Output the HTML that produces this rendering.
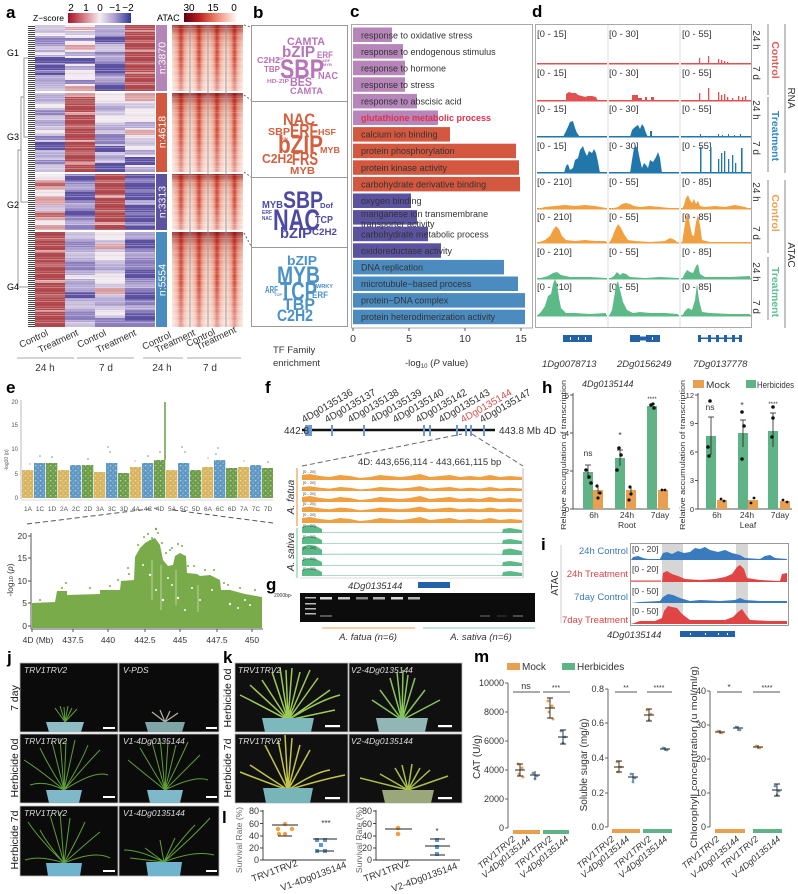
<!DOCTYPE html>
<html><head><meta charset="utf-8">
<style>
html,body{margin:0;padding:0;background:#fff}
svg{display:block}
text{font-family:"Liberation Sans",Arial,sans-serif}
</style></head><body>
<svg width="798" height="894" viewBox="0 0 798 894" xmlns="http://www.w3.org/2000/svg" font-family="Liberation Sans, Arial, sans-serif">
<defs>
<linearGradient id="zs" x1="0" x2="1"><stop offset="0" stop-color="#a8102a"/><stop offset=".25" stop-color="#d67a80"/><stop offset=".5" stop-color="#f4eef2"/><stop offset=".75" stop-color="#a89ad0"/><stop offset="1" stop-color="#2c3a96"/></linearGradient>
<linearGradient id="ac" x1="0" x2="1"><stop offset="0" stop-color="#5c0010"/><stop offset=".3" stop-color="#c0201e"/><stop offset=".65" stop-color="#f08f78"/><stop offset="1" stop-color="#fff5f0"/></linearGradient>
<linearGradient id="ah" x1="0" x2="1"><stop offset="0" stop-color="#f8dcd2"/><stop offset=".3" stop-color="#f0a892"/><stop offset=".5" stop-color="#cc3a2c"/><stop offset=".7" stop-color="#f0a892"/><stop offset="1" stop-color="#f8dcd2"/></linearGradient>
<linearGradient id="av" x1="0" x2="0" y1="0" y2="1"><stop offset="0" stop-color="#7a0008" stop-opacity=".65"/><stop offset=".15" stop-color="#b02418" stop-opacity=".25"/><stop offset=".5" stop-color="#fff" stop-opacity=".05"/><stop offset="1" stop-color="#fff" stop-opacity=".5"/></linearGradient>
<pattern id="hs" width="120" height="7" patternUnits="userSpaceOnUse"><rect y="0" width="120" height="1" fill="#fff" opacity=".3"/><rect y="3" width="120" height=".8" fill="#000" opacity=".06"/><rect y="5" width="120" height=".7" fill="#fff" opacity=".2"/></pattern>
<pattern id="dd" width="10" height="2" patternUnits="userSpaceOnUse"><rect width="10" height="1" fill="#222"/></pattern>
<pattern id="spk" width="5" height="5" patternUnits="userSpaceOnUse"><rect x="0" y="0" width="1.3" height="1.3" fill="#fff" opacity=".55"/><rect x="2.5" y="2.5" width="1.2" height="1.2" fill="#fff" opacity=".45"/><rect x="3.5" y="0.5" width=".8" height=".8" fill="#fff" opacity=".3"/></pattern>
</defs>

<!-- ================= PANEL A ================= -->
<text x="6" y="18" font-size="17" font-weight="bold">a</text>
<text x="33" y="21" font-size="8.5">Z−score</text>
<rect x="68" y="13" width="63" height="10" fill="url(#zs)"/>
<g font-size="10" text-anchor="middle"><text x="71" y="11">2</text><text x="86" y="11">1</text><text x="100" y="11">0</text><text x="115" y="11">−1</text><text x="128" y="11">−2</text></g>
<text x="157" y="21" font-size="9">ATAC</text>
<rect x="184" y="13" width="52" height="9" fill="url(#ac)"/>
<g font-size="10" text-anchor="middle"><text x="189" y="11">30</text><text x="213" y="11">15</text><text x="234" y="11">0</text></g>

<rect x="28" y="25" width="7" height="302" fill="url(#dd)" opacity=".85"/>
<g stroke="#999" stroke-width="1" fill="none">
<path d="M28,58 H24 V137 H28"/><path d="M24,97 H21 V202 H28"/><path d="M21,150 H18 V287 H28"/>
</g>
<g font-size="9"><text x="7" y="56">G1</text><text x="7" y="140">G3</text><text x="7" y="208">G2</text><text x="7" y="290">G4</text></g>

<g>
<rect x="35" y="25" width="30" height="66" fill="#b3a7d3"/>
<rect x="35" y="25" width="30" height="8" fill="#cfc4e0"/><rect x="35" y="33" width="30" height="3" fill="#f2e9ef"/><rect x="35" y="38" width="30" height="6" fill="#8f81c0"/><rect x="35" y="46" width="30" height="4" fill="#cfc4e0"/><rect x="35" y="52" width="30" height="3" fill="#f2e9ef"/><rect x="35" y="57" width="30" height="18" fill="#5e52a3"/><rect x="35" y="63" width="30" height="2" fill="#8f81c0"/><rect x="35" y="70" width="30" height="3" fill="#8f81c0"/><rect x="35" y="86" width="30" height="5" fill="#cfc4e0"/>
<rect x="65" y="25" width="30" height="66" fill="#f2e9ef"/>
<rect x="65" y="27" width="30" height="3" fill="#dda0a3"/><rect x="65" y="31" width="30" height="4" fill="#cfc4e0"/><rect x="65" y="38" width="30" height="3" fill="#8f81c0"/><rect x="65" y="45" width="30" height="5" fill="#dda0a3"/><rect x="65" y="52" width="30" height="4" fill="#b3a7d3"/><rect x="65" y="58" width="30" height="6" fill="#5e52a3"/><rect x="65" y="66" width="30" height="4" fill="#b3a7d3"/><rect x="65" y="80" width="30" height="4" fill="#8f81c0"/><rect x="65" y="86" width="30" height="5" fill="#dda0a3"/>
<rect x="95" y="25" width="30" height="66" fill="#8f81c0"/>
<rect x="95" y="25" width="30" height="10" fill="#b3a7d3"/><rect x="95" y="37" width="30" height="5" fill="#5e52a3"/><rect x="95" y="44" width="30" height="8" fill="#cfc4e0"/><rect x="95" y="55" width="30" height="6" fill="#b3a7d3"/><rect x="95" y="63" width="30" height="10" fill="#5e52a3"/><rect x="95" y="76" width="30" height="6" fill="#b3a7d3"/><rect x="95" y="84" width="30" height="7" fill="#5e52a3"/>
<rect x="125" y="25" width="30" height="66" fill="#b24a4f"/>
<rect x="125" y="30" width="30" height="2" fill="#dda0a3"/><rect x="125" y="40" width="30" height="3" fill="#c0656a"/><rect x="125" y="50" width="30" height="2" fill="#dda0a3"/><rect x="125" y="62" width="30" height="3" fill="#c0656a"/><rect x="125" y="72" width="30" height="2" fill="#dda0a3"/><rect x="125" y="82" width="30" height="3" fill="#c0656a"/>
</g>
<g>
<rect x="35" y="93" width="30" height="79" fill="#cfc4e0"/>
<rect x="35" y="95" width="30" height="6" fill="#b3a7d3"/><rect x="35" y="104" width="30" height="4" fill="#f2e9ef"/><rect x="35" y="110" width="30" height="5" fill="#8f81c0"/><rect x="35" y="120" width="30" height="6" fill="#b3a7d3"/><rect x="35" y="130" width="30" height="3" fill="#f2e9ef"/><rect x="35" y="136" width="30" height="4" fill="#8f81c0"/><rect x="35" y="142" width="30" height="8" fill="#5e52a3"/><rect x="35" y="152" width="30" height="5" fill="#b3a7d3"/><rect x="35" y="160" width="30" height="4" fill="#8f81c0"/>
<rect x="65" y="93" width="30" height="79" fill="#b24a4f"/>
<rect x="65" y="93" width="30" height="4" fill="#dda0a3"/><rect x="65" y="100" width="30" height="3" fill="#c0656a"/><rect x="65" y="112" width="30" height="3" fill="#dda0a3"/><rect x="65" y="125" width="30" height="4" fill="#c0656a"/><rect x="65" y="140" width="30" height="2" fill="#dda0a3"/><rect x="65" y="150" width="30" height="4" fill="#c0656a"/><rect x="65" y="162" width="30" height="3" fill="#dda0a3"/>
<rect x="95" y="93" width="30" height="79" fill="#cfc4e0"/>
<rect x="95" y="93" width="30" height="10" fill="#f2e9ef"/><rect x="95" y="105" width="30" height="6" fill="#b3a7d3"/><rect x="95" y="115" width="30" height="8" fill="#f2e9ef"/><rect x="95" y="125" width="30" height="5" fill="#b3a7d3"/><rect x="95" y="134" width="30" height="10" fill="#8f81c0"/><rect x="95" y="146" width="30" height="6" fill="#5e52a3"/><rect x="95" y="155" width="30" height="5" fill="#b3a7d3"/><rect x="95" y="163" width="30" height="9" fill="#5e52a3"/>
<rect x="125" y="93" width="30" height="79" fill="#f2e9ef"/>
<rect x="125" y="93" width="30" height="8" fill="#dda0a3"/><rect x="125" y="103" width="30" height="5" fill="#cfc4e0"/><rect x="125" y="122" width="30" height="6" fill="#b3a7d3"/><rect x="125" y="130" width="30" height="5" fill="#dda0a3"/><rect x="125" y="138" width="30" height="8" fill="#cfc4e0"/><rect x="125" y="150" width="30" height="5" fill="#b3a7d3"/><rect x="125" y="157" width="30" height="8" fill="#5e52a3"/><rect x="125" y="167" width="30" height="5" fill="#b3a7d3"/>
</g>
<g>
<rect x="35" y="174" width="30" height="56" fill="#dda0a3"/>
<rect x="35" y="174" width="30" height="6" fill="#f2e9ef"/><rect x="35" y="182" width="30" height="4" fill="#c0656a"/><rect x="35" y="190" width="30" height="6" fill="#f2e9ef"/><rect x="35" y="205" width="30" height="6" fill="#cfc4e0"/><rect x="35" y="213" width="30" height="4" fill="#c0656a"/><rect x="35" y="220" width="30" height="5" fill="#f2e9ef"/>
<rect x="65" y="174" width="30" height="56" fill="#8f81c0"/>
<rect x="65" y="176" width="30" height="5" fill="#5e52a3"/><rect x="65" y="184" width="30" height="5" fill="#b3a7d3"/><rect x="65" y="192" width="30" height="8" fill="#5e52a3"/><rect x="65" y="203" width="30" height="5" fill="#b3a7d3"/><rect x="65" y="210" width="30" height="6" fill="#5e52a3"/><rect x="65" y="220" width="30" height="5" fill="#b3a7d3"/>
<rect x="95" y="174" width="30" height="56" fill="#b24a4f"/>
<rect x="95" y="180" width="30" height="3" fill="#c0656a"/><rect x="95" y="195" width="30" height="3" fill="#dda0a3"/><rect x="95" y="210" width="30" height="3" fill="#c0656a"/><rect x="95" y="222" width="30" height="3" fill="#dda0a3"/>
<rect x="125" y="174" width="30" height="56" fill="#5e52a3"/>
<rect x="125" y="178" width="30" height="4" fill="#8f81c0"/><rect x="125" y="190" width="30" height="3" fill="#8f81c0"/><rect x="125" y="200" width="30" height="5" fill="#b3a7d3"/><rect x="125" y="212" width="30" height="3" fill="#8f81c0"/><rect x="125" y="222" width="30" height="4" fill="#8f81c0"/>
</g>
<g>
<rect x="35" y="232" width="30" height="95" fill="#b24a4f"/>
<rect x="35" y="238" width="30" height="3" fill="#c0656a"/><rect x="35" y="250" width="30" height="2" fill="#dda0a3"/><rect x="35" y="262" width="30" height="4" fill="#c0656a"/><rect x="35" y="280" width="30" height="3" fill="#dda0a3"/><rect x="35" y="295" width="30" height="3" fill="#c0656a"/><rect x="35" y="310" width="30" height="2" fill="#dda0a3"/>
<rect x="65" y="232" width="30" height="95" fill="#b3a7d3"/>
<rect x="65" y="232" width="30" height="6" fill="#cfc4e0"/><rect x="65" y="242" width="30" height="5" fill="#8f81c0"/><rect x="65" y="252" width="30" height="6" fill="#cfc4e0"/><rect x="65" y="262" width="30" height="8" fill="#8f81c0"/><rect x="65" y="275" width="30" height="4" fill="#f2e9ef"/><rect x="65" y="292" width="30" height="6" fill="#5e52a3"/><rect x="65" y="302" width="30" height="6" fill="#cfc4e0"/><rect x="65" y="312" width="30" height="8" fill="#8f81c0"/><rect x="65" y="322" width="30" height="5" fill="#cfc4e0"/>
<rect x="95" y="232" width="30" height="95" fill="#cfc4e0"/>
<rect x="95" y="232" width="30" height="8" fill="#f2e9ef"/><rect x="95" y="244" width="30" height="5" fill="#dda0a3"/><rect x="95" y="252" width="30" height="8" fill="#f2e9ef"/><rect x="95" y="264" width="30" height="6" fill="#b3a7d3"/><rect x="95" y="274" width="30" height="10" fill="#f2e9ef"/><rect x="95" y="288" width="30" height="6" fill="#dda0a3"/><rect x="95" y="298" width="30" height="8" fill="#b3a7d3"/><rect x="95" y="310" width="30" height="5" fill="#f2e9ef"/><rect x="95" y="318" width="30" height="9" fill="#8f81c0"/>
<rect x="125" y="232" width="30" height="95" fill="#8f81c0"/>
<rect x="125" y="232" width="30" height="6" fill="#b3a7d3"/><rect x="125" y="240" width="30" height="8" fill="#5e52a3"/><rect x="125" y="252" width="30" height="6" fill="#b3a7d3"/><rect x="125" y="270" width="30" height="8" fill="#5e52a3"/><rect x="125" y="282" width="30" height="6" fill="#b3a7d3"/><rect x="125" y="292" width="30" height="8" fill="#5e52a3"/><rect x="125" y="305" width="30" height="5" fill="#b3a7d3"/><rect x="125" y="313" width="30" height="8" fill="#5e52a3"/>
</g>
<rect x="35" y="25" width="120" height="302" fill="url(#hs)"/>
<g fill="#fff"><rect x="35" y="91" width="120" height="2"/><rect x="35" y="172" width="120" height="2"/><rect x="35" y="230" width="120" height="2"/></g>

<rect x="156" y="25" width="11" height="66" fill="#b486b8"/>
<rect x="156" y="93" width="11" height="79" fill="#d2583f"/>
<rect x="156" y="174" width="11" height="56" fill="#5b52a0"/>
<rect x="156" y="232" width="11" height="95" fill="#4b8cc0"/>
<g fill="#fff" font-size="10.5" text-anchor="middle">
<text transform="translate(165.5,58) rotate(-90)">n:3870</text>
<text transform="translate(165.5,132) rotate(-90)">n:4618</text>
<text transform="translate(165.5,202) rotate(-90)">n:3313</text>
<text transform="translate(165.5,280) rotate(-90)">n:5554</text>
</g>

<g>
<rect x="172" y="25" width="18" height="66" fill="url(#ah)"/><rect x="190" y="25" width="18" height="66" fill="url(#ah)"/><rect x="208" y="25" width="18" height="66" fill="url(#ah)"/><rect x="226" y="25" width="17" height="66" fill="url(#ah)"/>
<rect x="172" y="93" width="18" height="79" fill="url(#ah)"/><rect x="190" y="93" width="18" height="79" fill="url(#ah)"/><rect x="208" y="93" width="18" height="79" fill="url(#ah)"/><rect x="226" y="93" width="17" height="79" fill="url(#ah)"/>
<rect x="172" y="174" width="18" height="56" fill="url(#ah)"/><rect x="190" y="174" width="18" height="56" fill="url(#ah)"/><rect x="208" y="174" width="18" height="56" fill="url(#ah)"/><rect x="226" y="174" width="17" height="56" fill="url(#ah)"/>
<rect x="172" y="232" width="18" height="95" fill="url(#ah)"/><rect x="190" y="232" width="18" height="95" fill="url(#ah)"/><rect x="208" y="232" width="18" height="95" fill="url(#ah)"/><rect x="226" y="232" width="17" height="95" fill="url(#ah)"/>
<rect x="172" y="25" width="71" height="66" fill="url(#av)"/>
<rect x="172" y="93" width="71" height="79" fill="url(#av)"/>
<rect x="172" y="174" width="71" height="56" fill="url(#av)"/>
<rect x="172" y="232" width="71" height="95" fill="url(#av)"/>
<rect x="172" y="25" width="71" height="302" fill="url(#hs)" opacity=".6"/>
<g fill="#fff"><rect x="172" y="91" width="71" height="2"/><rect x="172" y="172" width="71" height="2"/><rect x="172" y="230" width="71" height="2"/></g>
<g stroke="#888" stroke-width=".8"><line x1="190" y1="25" x2="190" y2="327"/><line x1="208" y1="25" x2="208" y2="327"/><line x1="226" y1="25" x2="226" y2="327"/></g>
</g>

<g font-size="9.5" fill="#333">
<text transform="translate(21,348) rotate(-25)">Control</text>
<text transform="translate(40,353) rotate(-25)">Treatment</text>
<text transform="translate(79,348) rotate(-25)">Control</text>
<text transform="translate(98,353) rotate(-25)">Treatment</text>
<text transform="translate(144,350) rotate(-25)">Control</text>
<text transform="translate(157,353) rotate(-25)">Treatment</text>
<text transform="translate(188,347) rotate(-25)">Control</text>
<text transform="translate(198,350) rotate(-25)">Treatment</text>
</g>
<g stroke="#aaa" stroke-width="1"><line x1="17" y1="358" x2="74" y2="358"/><line x1="77" y1="358" x2="134" y2="358"/><line x1="143" y1="358" x2="183" y2="358"/><line x1="187" y1="358" x2="241" y2="358"/></g>
<g font-size="10" text-anchor="middle" fill="#333"><text x="45" y="371">24 h</text><text x="106" y="371">7 d</text><text x="162" y="371">24 h</text><text x="210" y="371">7 d</text></g>

<!-- ================= PANEL B ================= -->
<text x="253" y="18" font-size="17" font-weight="bold">b</text>
<g fill="none" stroke="#999" stroke-width="1">
<rect x="251.5" y="25.5" width="96" height="76"/><rect x="251.5" y="101.5" width="96" height="76"/><rect x="251.5" y="177.5" width="96" height="70"/><rect x="251.5" y="247.5" width="96" height="79"/>
</g>
<g stroke="#666" stroke-dasharray="2,2"><line x1="244" y1="25" x2="251" y2="27"/><line x1="244" y1="95" x2="251" y2="100"/><line x1="244" y1="172" x2="251" y2="177"/><line x1="244" y1="233" x2="251" y2="246"/></g>
<g font-weight="bold" fill="#b874b8">
<text x="287" y="45" font-size="11" textLength="38" lengthAdjust="spacingAndGlyphs">CAMTA</text>
<text x="282" y="57" font-size="16" textLength="33" lengthAdjust="spacingAndGlyphs">bZIP</text>
<text x="317" y="58" font-size="9" textLength="16" lengthAdjust="spacingAndGlyphs">ERF</text>
<text x="257" y="63" font-size="8" textLength="23" lengthAdjust="spacingAndGlyphs">C2H2</text>
<text x="280" y="78" font-size="27" textLength="44" lengthAdjust="spacingAndGlyphs">SBP</text>
<text x="264" y="72" font-size="8.5" textLength="16" lengthAdjust="spacingAndGlyphs">TBP</text>
<text x="318" y="79" font-size="10.5" textLength="20" lengthAdjust="spacingAndGlyphs">NAC</text>
<text x="267" y="83" font-size="5.5" textLength="22" lengthAdjust="spacingAndGlyphs">HD-ZIP</text>
<text x="290" y="86" font-size="12" textLength="22" lengthAdjust="spacingAndGlyphs">BES</text>
<text x="290" y="94" font-size="9" textLength="33" lengthAdjust="spacingAndGlyphs">CAMTA</text>
<text x="322" y="62" font-size="4">ARF</text><text x="323" y="66" font-size="4">MYB</text><text x="276" y="60" font-size="4">TCP</text>
</g>
<g font-weight="bold" fill="#d65f3f">
<text x="283" y="125" font-size="17" textLength="32" lengthAdjust="spacingAndGlyphs">NAC</text>
<text x="268" y="135" font-size="10" textLength="22" lengthAdjust="spacingAndGlyphs">SBP</text>
<text x="290" y="137" font-size="18" textLength="28" lengthAdjust="spacingAndGlyphs">ERF</text>
<text x="318" y="135" font-size="8.5" textLength="18" lengthAdjust="spacingAndGlyphs">HSF</text>
<text x="278" y="153" font-size="25" textLength="45" lengthAdjust="spacingAndGlyphs">bZIP</text>
<text x="320" y="153" font-size="8.5" textLength="20" lengthAdjust="spacingAndGlyphs">MYB</text>
<text x="262" y="163" font-size="12.5" textLength="31" lengthAdjust="spacingAndGlyphs">C2H2</text>
<text x="292" y="165" font-size="18" textLength="26" lengthAdjust="spacingAndGlyphs">FRS</text>
<text x="290" y="174" font-size="10" textLength="25" lengthAdjust="spacingAndGlyphs">MYB</text>
<text x="281" y="140" font-size="4">EIN</text>
</g>
<g font-weight="bold" fill="#4c4aa5">
<text x="283" y="208" font-size="24" textLength="40" lengthAdjust="spacingAndGlyphs">SBP</text>
<text x="262" y="208" font-size="10" textLength="21" lengthAdjust="spacingAndGlyphs">MYB</text>
<text x="320" y="208" font-size="7.5" textLength="13" lengthAdjust="spacingAndGlyphs">Dof</text>
<text x="262" y="214" font-size="5" textLength="10" lengthAdjust="spacingAndGlyphs">ERF</text>
<text x="262" y="220" font-size="5" textLength="10" lengthAdjust="spacingAndGlyphs">NAC</text>
<text x="273" y="230" font-size="30" textLength="47" lengthAdjust="spacingAndGlyphs">NAC</text>
<text x="315" y="223" font-size="10.5" textLength="18" lengthAdjust="spacingAndGlyphs">TCP</text>
<text x="280" y="238" font-size="15" textLength="32" lengthAdjust="spacingAndGlyphs">bZIP</text>
<text x="312" y="235" font-size="9" textLength="25" lengthAdjust="spacingAndGlyphs">C2H2</text>
</g>
<g font-weight="bold" fill="#4a92c8">
<text x="287" y="265" font-size="13" textLength="30" lengthAdjust="spacingAndGlyphs">bZIP</text>
<text x="277" y="283" font-size="24" textLength="43" lengthAdjust="spacingAndGlyphs">MYB</text>
<text x="265" y="293" font-size="10" textLength="13" lengthAdjust="spacingAndGlyphs">ARF</text>
<text x="280" y="300" font-size="26" textLength="37" lengthAdjust="spacingAndGlyphs">TCP</text>
<text x="316" y="288" font-size="5" textLength="17" lengthAdjust="spacingAndGlyphs">WRKY</text>
<text x="312" y="298" font-size="9" textLength="16" lengthAdjust="spacingAndGlyphs">ERF</text>
<text x="283" y="310" font-size="17" textLength="32" lengthAdjust="spacingAndGlyphs">TBP</text>
<text x="277" y="321" font-size="17" textLength="36" lengthAdjust="spacingAndGlyphs">C2H2</text>
<text x="274" y="296" font-size="4">TCP</text>
</g>
<g font-size="9.5" fill="#333"><text x="273" y="353">TF Family</text><text x="273" y="366">enrichment</text></g>

<!-- ================= PANEL C ================= -->
<text x="350" y="17" font-size="17" font-weight="bold">c</text>
<rect x="351.5" y="24.5" width="181" height="303.5" fill="none" stroke="#aaa"/>
<g>
<g fill="#b685ba">
<rect x="353" y="27.5" width="39" height="14.5"/><rect x="353" y="44.1" width="50" height="14.5"/><rect x="353" y="60.7" width="52" height="14.5"/><rect x="353" y="77.3" width="52" height="14.5"/><rect x="353" y="93.9" width="64" height="14.5"/><rect x="353" y="110.5" width="85" height="14.5"/>
</g>
<g fill="#d4573f">
<rect x="353" y="127.1" width="97" height="14.5"/><rect x="353" y="143.7" width="163" height="14.5"/><rect x="353" y="160.3" width="166" height="14.5"/><rect x="353" y="176.9" width="167" height="14.5"/>
</g>
<g fill="#5b52a0">
<rect x="353" y="193.5" width="58" height="14.5"/><rect x="353" y="210.1" width="64" height="14.5"/><rect x="353" y="226.7" width="75" height="14.5"/><rect x="353" y="243.3" width="88" height="14.5"/>
</g>
<g fill="#4b8bc0">
<rect x="353" y="259.9" width="151" height="14.5"/><rect x="353" y="276.5" width="165" height="14.5"/><rect x="353" y="293.1" width="172" height="14.5"/><rect x="353" y="309.7" width="172" height="14.5"/>
</g>
<g font-size="9" fill="#333">
<text x="361" y="38.5">response to oxidative stress</text>
<text x="361" y="55">response to endogenous stimulus</text>
<text x="361" y="71.5">response to hormone</text>
<text x="361" y="88">response to stress</text>
<text x="361" y="104.5">response to abscisic acid</text>
<text x="361" y="121" fill="#e0314b" font-weight="bold">glutathione metabolic process</text>
<text x="361" y="137.5">calcium ion binding</text>
<text x="361" y="154">protein phosphorylation</text>
<text x="361" y="171">protein kinase activity</text>
<text x="361" y="187.5">carbohydrate derivative binding</text>
<text x="361" y="204">oxygen binding</text>
<text x="361" y="217">manganese ion transmembrane</text>
<text x="361" y="227">transporter activity</text>
<text x="361" y="237.5">carbohydrate metabolic process</text>
<text x="361" y="254">oxidoreductase activity</text>
<text x="361" y="270.5">DNA replication</text>
<text x="361" y="287">microtubule−based process</text>
<text x="361" y="303.5">protein−DNA complex</text>
<text x="361" y="320">protein heterodimerization activity</text>
</g>
</g>
<g stroke="#555"><line x1="353" y1="328" x2="353" y2="331"/><line x1="409" y1="328" x2="409" y2="331"/><line x1="465" y1="328" x2="465" y2="331"/><line x1="521" y1="328" x2="521" y2="331"/></g>
<g font-size="10.5" text-anchor="middle" fill="#333"><text x="353" y="342">0</text><text x="409" y="342">5</text><text x="465" y="342">10</text><text x="521" y="342">15</text></g>
<text x="405" y="366" font-size="9.5" fill="#333">-log<tspan font-size="6" dy="2">10</tspan><tspan dy="-2"> (</tspan><tspan font-style="italic">P</tspan> value)</text>

<!-- ================= PANEL D ================= -->
<text x="532" y="17" font-size="17" font-weight="bold">d</text>
<rect x="535.5" y="24.5" width="216" height="303" fill="none" stroke="#aaa"/>
<g stroke="#ddd"><line x1="608" y1="25" x2="608" y2="327"/><line x1="680" y1="25" x2="680" y2="327"/></g>
<g font-size="9.5" fill="#333">
<text x="537" y="37">[0 - 15]</text><text x="609" y="37">[0 - 30]</text><text x="682" y="37">[0 - 55]</text>
<text x="537" y="76">[0 - 15]</text><text x="609" y="76">[0 - 30]</text><text x="682" y="76">[0 - 55]</text>
<text x="537" y="112">[0 - 15]</text><text x="609" y="112">[0 - 30]</text><text x="682" y="112">[0 - 55]</text>
<text x="537" y="149">[0 - 15]</text><text x="609" y="149">[0 - 30]</text><text x="682" y="149">[0 - 55]</text>
<text x="537" y="185">[0 - 210]</text><text x="609" y="185">[0 - 55]</text><text x="682" y="185">[0 - 85]</text>
<text x="537" y="220">[0 - 210]</text><text x="609" y="220">[0 - 55]</text><text x="682" y="220">[0 - 85]</text>
<text x="537" y="255">[0 - 210]</text><text x="609" y="255">[0 - 55]</text><text x="682" y="255">[0 - 85]</text>
<text x="537" y="290">[0 - 210]</text><text x="609" y="290">[0 - 55]</text><text x="682" y="290">[0 - 85]</text>
</g>
<g fill="#e05050" stroke="none">
<rect x="537" y="63" width="70" height="1.5"/><rect x="609" y="63" width="70" height="1.5"/><rect x="681" y="63" width="70" height="1.5"/>
<rect x="699" y="58" width="1.2" height="6"/><rect x="708" y="56" width="1.2" height="8"/><rect x="718" y="59" width="1.2" height="5"/><rect x="721" y="60" width="1.2" height="4"/><rect x="724" y="61" width="1.2" height="3"/><rect x="727" y="62" width="1.2" height="2"/>
<rect x="537" y="100" width="70" height="1.5"/><rect x="609" y="100" width="70" height="1.5"/><rect x="681" y="100" width="70" height="1.5"/>
<path d="M566,101 L566,94 L569,92 L572,93 L576,93 L578,95 L582,96 L585,97 L588,96 L592,96 L596,97 L598,101 Z"/>
<rect x="632" y="95" width="6" height="6"/><rect x="638" y="98" width="4" height="3"/><rect x="645" y="97" width="2" height="4"/><rect x="651" y="97" width="3" height="4"/>
<rect x="699" y="93" width="1.3" height="8"/><rect x="708" y="88" width="1.3" height="13"/><rect x="718" y="92" width="1.3" height="9"/><rect x="721" y="95" width="1.3" height="6"/><rect x="724" y="94" width="1.3" height="7"/><rect x="727" y="97" width="1.3" height="4"/><rect x="732" y="98" width="1.3" height="3"/><rect x="738" y="96" width="1.3" height="5"/><rect x="742" y="97" width="1.3" height="4"/><rect x="745" y="96" width="1.3" height="5"/>
</g>
<g fill="#2277aa">
<rect x="537" y="136" width="70" height="1.5"/><rect x="609" y="136" width="70" height="1.5"/><rect x="681" y="136" width="70" height="1.5"/>
<path d="M563,137 L565,133 L567,129 L570,122 L573,121 L575,128 L577,133 L580,137 Z"/>
<path d="M630,137 L632,130 L635,127 L638,125 L640,129 L642,124 L644,127 L646,133 L648,137 Z"/><rect x="650" y="131" width="2" height="6"/>
<rect x="700" y="134" width="1" height="3"/><rect x="718" y="134" width="1" height="3"/><rect x="722" y="135" width="1" height="2"/><rect x="728" y="134" width="1" height="3"/><rect x="734" y="135" width="1" height="2"/><rect x="740" y="134" width="1" height="3"/>
<rect x="537" y="172" width="70" height="1.5"/><rect x="609" y="172" width="70" height="1.5"/><rect x="681" y="172" width="70" height="1.5"/>
<path d="M564,173 L566,166 L568,164 L570,170 L573,168 L575,160 L578,158 L580,150 L583,146 L585,152 L587,156 L589,151 L592,153 L594,149 L596,153 L598,162 L600,173 Z"/>
<path d="M630,173 L632,160 L634,148 L636,146 L638,150 L640,160 L642,168 L644,163 L646,165 L648,168 L650,160 L653,162 L656,157 L658,152 L660,158 L662,173 Z"/>
<rect x="700" y="147" width="1.5" height="26"/><rect x="710" y="147" width="1.5" height="26"/><rect x="718" y="159" width="1.3" height="14"/><rect x="721" y="153" width="1.3" height="20"/><rect x="724" y="151" width="1.3" height="22"/><rect x="728" y="159" width="1.3" height="14"/><rect x="732" y="155" width="1.3" height="18"/><rect x="735" y="163" width="1.3" height="10"/><rect x="741" y="148" width="1.6" height="25"/>
</g>
<g fill="#f0a040">
<rect x="537" y="208" width="70" height="1.5"/><rect x="609" y="208" width="70" height="1.5"/><rect x="681" y="208" width="70" height="1.5"/>
<path d="M537,209 L545,207 L555,206 L565,205 L575,206 L585,205 L595,206 L606,208 L606,209 Z"/>
<path d="M610,209 L618,207 L622,204 L626,203 L630,204 L634,206 L640,207 L650,206 L660,207 L670,208 L678,209 Z"/>
<path d="M682,209 L684,205 L686,198 L688,195 L690,200 L692,203 L694,199 L696,204 L698,201 L700,206 L705,207 L715,206 L725,207 L735,205 L745,207 L750,209 Z"/>
<rect x="537" y="242" width="70" height="1.5"/><rect x="609" y="242" width="70" height="1.5"/><rect x="681" y="242" width="70" height="1.5"/>
<path d="M537,243 L545,240 L550,236 L553,230 L556,226 L559,229 L562,236 L566,240 L575,241 L585,240 L595,241 L606,241 L606,243 Z"/>
<path d="M609,243 L612,238 L615,230 L618,224 L621,228 L624,234 L628,240 L635,241 L650,242 L665,241 L670,238 L675,240 L678,243 Z"/>
<path d="M682,243 L684,230 L686,217 L688,214 L690,225 L692,235 L694,236 L696,222 L698,215 L700,225 L702,240 L710,242 L750,242 L750,243 Z"/>
</g>
<g fill="#5cba88">
<rect x="537" y="278" width="70" height="1.5"/><rect x="609" y="278" width="70" height="1.5"/><rect x="681" y="278" width="70" height="1.5"/>
<path d="M537,279 L548,276 L553,273 L557,272 L561,275 L570,277 L590,277 L606,278 L606,279 Z"/>
<path d="M609,279 L614,276 L617,272 L620,275 L623,273 L626,274 L630,277 L645,278 L660,277 L678,278 L678,279 Z"/>
<path d="M682,279 L684,275 L687,270 L690,272 L693,273 L696,266 L698,264 L700,274 L705,277 L730,277 L750,276 L750,279 Z"/>
<rect x="537" y="315" width="70" height="1.5"/><rect x="609" y="315" width="70" height="1.5"/><rect x="681" y="315" width="70" height="1.5"/>
<path d="M537,316 L541,312 L545,306 L548,296 L551,294 L553,284 L555,279 L557,284 L559,298 L561,308 L566,313 L575,313 L590,314 L606,313 L606,316 Z"/>
<path d="M609,316 L612,310 L614,298 L616,285 L618,281 L620,290 L623,302 L627,310 L633,313 L640,312 L650,313 L665,313 L678,314 L678,316 Z"/>
<path d="M682,316 L685,311 L688,308 L692,310 L695,300 L697,284 L699,300 L702,312 L710,313 L730,314 L750,314 L750,316 Z"/>
</g>
<g font-size="10" fill="#333" text-anchor="middle">
<text transform="translate(753,40) rotate(90)">24 h</text><text transform="translate(753,73) rotate(90)">7 d</text>
<text transform="translate(753,110) rotate(90)">24 h</text><text transform="translate(753,148) rotate(90)">7 d</text>
<text transform="translate(753,192) rotate(90)">24 h</text><text transform="translate(753,233) rotate(90)">7 d</text>
<text transform="translate(753,272) rotate(90)">24 h</text><text transform="translate(753,307) rotate(90)">7 d</text>
</g>
<g stroke="#888"><line x1="768" y1="24" x2="768" y2="95"/><line x1="768" y1="97" x2="768" y2="172"/><line x1="768" y1="180" x2="768" y2="253"/><line x1="768" y1="257" x2="768" y2="320"/>
<line x1="785" y1="24" x2="785" y2="173"/><line x1="785" y1="180" x2="785" y2="328"/></g>
<g font-size="10.5" font-weight="bold" text-anchor="middle">
<text transform="translate(772,60) rotate(90)" fill="#e05a5a">Control</text>
<text transform="translate(772,136) rotate(90)" fill="#2d8ac0">Treatment</text>
<text transform="translate(772,213) rotate(90)" fill="#f0a050">Control</text>
<text transform="translate(772,292) rotate(90)" fill="#5cc08f">Treatment</text>
</g>
<g font-size="10" text-anchor="middle" fill="#333"><text transform="translate(788,98) rotate(90)">RNA</text><text transform="translate(788,255) rotate(90)">ATAC</text></g>
<g fill="#2462a8">
<rect x="563" y="335" width="29" height="7"/><rect x="630" y="335" width="10" height="7"/><rect x="640" y="336.5" width="6" height="4"/><rect x="646" y="335" width="14" height="7"/>
<rect x="698" y="337.5" width="44" height="1.5"/><rect x="698" y="335" width="3" height="7"/><rect x="708" y="335" width="3" height="7"/><rect x="716" y="335" width="3" height="7"/><rect x="724" y="335" width="3" height="7"/><rect x="732" y="335" width="3" height="7"/><rect x="739" y="335" width="3" height="7"/>
</g>
<g fill="#fff"><rect x="570" y="337" width="1" height="3"/><rect x="578" y="337" width="1" height="3"/><rect x="585" y="337" width="1" height="3"/><rect x="652" y="337" width="1" height="3"/></g>
<g font-size="9.5" font-style="italic" fill="#333"><text x="542" y="367">1Dg0078713</text><text x="617" y="367">2Dg0156249</text><text x="693" y="367">7Dg0137778</text></g>

<!-- ================= PANEL E ================= -->
<text x="6" y="393" font-size="17" font-weight="bold">e</text>
<g>
<rect x="22" y="470" width="11.3" height="28" fill="#d8b45f"/>
<rect x="34" y="463" width="11.3" height="35" fill="#5e97c2"/>
<rect x="46" y="463" width="11.3" height="35" fill="#6c9c48"/>
<rect x="58" y="470" width="11.3" height="28" fill="#d8b45f"/>
<rect x="70" y="465" width="11.3" height="33" fill="#5e97c2"/>
<rect x="82" y="465" width="11.3" height="33" fill="#6c9c48"/>
<rect x="94" y="472" width="11.3" height="26" fill="#d8b45f"/>
<rect x="106" y="463" width="11.3" height="35" fill="#5e97c2"/>
<rect x="118" y="473" width="11.3" height="25" fill="#6c9c48"/>
<rect x="130" y="467" width="11.3" height="31" fill="#d8b45f"/>
<rect x="142" y="463" width="11.3" height="35" fill="#5e97c2"/>
<rect x="154" y="460" width="11.3" height="38" fill="#6c9c48"/>
<rect x="166" y="470" width="11.3" height="28" fill="#d8b45f"/>
<rect x="178" y="463" width="11.3" height="35" fill="#5e97c2"/>
<rect x="190" y="470" width="11.3" height="28" fill="#6c9c48"/>
<rect x="202" y="467" width="11.3" height="31" fill="#d8b45f"/>
<rect x="214" y="460" width="11.3" height="38" fill="#5e97c2"/>
<rect x="226" y="468" width="11.3" height="30" fill="#6c9c48"/>
<rect x="238" y="467" width="11.3" height="31" fill="#d8b45f"/>
<rect x="250" y="465" width="11.3" height="33" fill="#5e97c2"/>
<rect x="262" y="468" width="11" height="30" fill="#6c9c48"/>
<rect x="22" y="458" width="251" height="40" fill="url(#spk)"/>
<line x1="165" y1="402" x2="165" y2="460" stroke="#6c9c48" stroke-width="1.5"/>
<g fill="#5e97c2"><circle cx="40" cy="456" r=".8"/><circle cx="108" cy="447" r=".8"/><circle cx="110" cy="452" r=".8"/><circle cx="182" cy="447" r=".8"/><circle cx="185" cy="452" r=".8"/><circle cx="218" cy="448" r=".8"/><circle cx="216" cy="454" r=".8"/><circle cx="148" cy="456" r=".8"/></g>
<g fill="#6c9c48"><circle cx="52" cy="457" r=".8"/><circle cx="88" cy="459" r=".8"/><circle cx="160" cy="452" r=".8"/><circle cx="268" cy="462" r=".8"/></g>
<g fill="#d8b45f"><circle cx="30" cy="464" r=".8"/><circle cx="135" cy="461" r=".8"/><circle cx="208" cy="458" r=".8"/><circle cx="244" cy="461" r=".8"/></g>
</g>
<line x1="21" y1="400" x2="21" y2="499" stroke="#aaa" stroke-width=".8"/>
<line x1="21" y1="500" x2="273" y2="500" stroke="#ccc" stroke-width=".8"/>
<g font-size="6" fill="#555" text-anchor="end"><text x="18" y="404">20</text><text x="18" y="427">15</text><text x="18" y="451">10</text><text x="18" y="476">5</text><text x="18" y="500">0</text></g>
<text transform="translate(8,460) rotate(-90)" font-size="5" fill="#555" text-anchor="middle">-log10 (p)</text>
<g font-size="6.5" fill="#555" text-anchor="middle">
<text x="28" y="511">1A</text><text x="40" y="511">1C</text><text x="52" y="511">1D</text><text x="64" y="511">2A</text><text x="76" y="511">2C</text><text x="88" y="511">2D</text><text x="100" y="511">3A</text><text x="112" y="511">3C</text><text x="124" y="511">3D</text><text x="136" y="511">4A</text><text x="148" y="511">4C</text><text x="160" y="511">4D</text><text x="172" y="511">5A</text><text x="184" y="511">5C</text><text x="196" y="511">5D</text><text x="208" y="511">6A</text><text x="220" y="511">6C</text><text x="232" y="511">6D</text><text x="244" y="511">7A</text><text x="256" y="511">7C</text><text x="268" y="511">7D</text>
</g>
<g stroke="#555" stroke-dasharray="5,3"><line x1="27" y1="524" x2="157" y2="508"/><line x1="173" y1="510" x2="273" y2="523"/></g>
<path fill="#7aab4a" d="M32,628 L32,603 L55,602 L57,591 L67,591 L67,595 L100,594 L100,590 L120,590 L121,581 L134,580 L135,557 L140,548 L145,543 L150,540 L155,538 L160,545 L163,560 L168,566 L173,565 L175,556 L180,553 L186,556 L187,573 L197,574 L200,576 L210,575 L220,580 L221,590 L230,590 L245,594 L262,597 L262,628 Z"/>
<g fill="#7aab4a">
<circle cx="40" cy="600" r="1"/><circle cx="62" cy="588" r="1"/><circle cx="66" cy="583" r="1"/><circle cx="90" cy="588" r="1"/><circle cx="110" cy="586" r="1"/><circle cx="118" cy="580" r="1"/><circle cx="129" cy="574" r="1"/><circle cx="128" cy="568" r="1"/><circle cx="138" cy="545" r="1"/><circle cx="144" cy="537" r="1"/><circle cx="148" cy="534" r="1"/><circle cx="152" cy="538" r="1"/><circle cx="156" cy="529" r="1.2"/><circle cx="158" cy="533" r="1"/><circle cx="162" cy="543" r="1"/><circle cx="166" cy="553" r="1"/><circle cx="170" cy="550" r="1"/><circle cx="172" cy="548" r="1"/><circle cx="178" cy="544" r="1"/><circle cx="182" cy="546" r="1"/><circle cx="188" cy="566" r="1"/><circle cx="194" cy="566" r="1"/><circle cx="205" cy="570" r="1"/><circle cx="214" cy="570" r="1"/><circle cx="224" cy="583" r="1"/><circle cx="228" cy="585" r="1"/><circle cx="240" cy="588" r="1"/><circle cx="255" cy="590" r="1"/>
</g>
<g fill="#fff"><circle cx="150" cy="575" r="1.2"/><circle cx="156" cy="590" r="1"/><circle cx="163" cy="600" r="1.2"/><circle cx="172" cy="585" r="1"/><circle cx="178" cy="598" r="1.2"/><circle cx="185" cy="610" r="1"/><circle cx="200" cy="600" r="1"/><circle cx="230" cy="604" r="1.2"/><circle cx="238" cy="608" r="1"/><circle cx="250" cy="605" r="1"/><circle cx="143" cy="565" r="1"/><circle cx="168" cy="578" r="1"/><circle cx="192" cy="588" r="1"/><circle cx="212" cy="590" r="1"/><circle cx="245" cy="600" r="1"/></g>
<g stroke="#fff" stroke-width=".7" opacity=".7"><line x1="152" y1="560" x2="152" y2="600"/><line x1="161" y1="565" x2="161" y2="610"/><line x1="176" y1="570" x2="176" y2="605"/><line x1="198" y1="585" x2="198" y2="612"/></g>
<line x1="31" y1="533" x2="31" y2="629" stroke="#555"/>
<line x1="31" y1="629" x2="263" y2="629" stroke="#555"/>
<g stroke="#555"><line x1="28" y1="536" x2="31" y2="536"/><line x1="28" y1="558" x2="31" y2="558"/><line x1="28" y1="581" x2="31" y2="581"/><line x1="28" y1="603" x2="31" y2="603"/><line x1="28" y1="626" x2="31" y2="626"/>
<line x1="32" y1="629" x2="32" y2="632"/><line x1="73" y1="629" x2="73" y2="632"/><line x1="108" y1="629" x2="108" y2="632"/><line x1="145" y1="629" x2="145" y2="632"/><line x1="180" y1="629" x2="180" y2="632"/><line x1="217" y1="629" x2="217" y2="632"/><line x1="252" y1="629" x2="252" y2="632"/></g>
<g font-size="8.5" fill="#333" text-anchor="end"><text x="27" y="539">20</text><text x="27" y="561">15</text><text x="27" y="584">10</text><text x="27" y="606">5</text><text x="27" y="629">0</text></g>
<text transform="translate(13,580) rotate(-90)" font-size="8.5" fill="#333" text-anchor="middle">-log<tspan font-size="5.5">10</tspan> (<tspan font-style="italic">p</tspan>)</text>
<g font-size="8.5" fill="#333" text-anchor="middle"><text x="38" y="643">4D (Mb)</text><text x="73" y="643">437.5</text><text x="108" y="643">440</text><text x="145" y="643">442.5</text><text x="180" y="643">445</text><text x="217" y="643">447.5</text><text x="252" y="643">450</text></g>

<!-- ================= PANEL F ================= -->
<text x="265" y="393" font-size="17" font-weight="bold">f</text>
<line x1="302" y1="430" x2="495" y2="430" stroke="#111" stroke-width="2.5"/>
<g fill="#6b9bd2"><rect x="305" y="425" width="7" height="11"/><rect x="331" y="425" width="2" height="11"/><rect x="363" y="425" width="2" height="11"/><rect x="423" y="425" width="2" height="11"/><rect x="429" y="425" width="2" height="11"/><rect x="456" y="425" width="2" height="11"/><rect x="465" y="425" width="2" height="11"/><rect x="470" y="425" width="2" height="11"/><rect x="483" y="425" width="2" height="11"/></g>
<text x="284" y="434" font-size="10" fill="#333">442.8</text>
<text x="499" y="434" font-size="10" fill="#333">443.8 Mb 4D</text>
<g font-size="10" fill="#333">
<text transform="translate(304,423) rotate(-30)">4Dg0135136</text>
<text transform="translate(327,423) rotate(-30)">4Dg0135137</text>
<text transform="translate(350,423) rotate(-30)">4Dg0135138</text>
<text transform="translate(373,423) rotate(-30)">4Dg0135139</text>
<text transform="translate(395,423) rotate(-30)">4Dg0135140</text>
<text transform="translate(418,423) rotate(-30)">4Dg0135142</text>
<text transform="translate(441,423) rotate(-30)">4Dg0135143</text>
<text transform="translate(463,423) rotate(-30)" fill="#d9534f">4Dg0135144</text>
<text transform="translate(482,423) rotate(-30)">4Dg0135147</text>
</g>
<g stroke="#666" stroke-dasharray="5,3"><line x1="302" y1="466" x2="462" y2="434"/><line x1="472" y1="434" x2="523" y2="466"/></g>
<text x="358" y="465" font-size="9.5" fill="#333">4D: 443,656,114 - 443,661,115 bp</text>
<line x1="523" y1="468" x2="523" y2="578" stroke="#bbb"/>
<line x1="300" y1="578" x2="523" y2="578" stroke="#ddd"/>
<defs>
<path id="ot" d="M302,0 L302,-5 L310,-6 L320,-4 L330,-3 L340,-5 L350,-4 L360,-2 L370,-3 L380,-5 L390,-4 L400,-3 L410,-4 L420,-6 L430,-3 L440,-4 L450,-5 L460,-3 L470,-4 L480,-3 L490,-5 L500,-3 L510,-4 L522,-3 L522,0 Z"/>
<g id="gt"><path d="M302,0 L302,-6 L308,-8 L316,-7 L322,-4 L322,0 Z"/><rect x="322" y="-1" width="180" height="1" opacity=".5"/><path d="M502,0 L503,-4 L510,-5 L516,-4 L522,-3 L522,0 Z"/></g>
</defs>
<g fill="#f0a040">
<use href="#ot" transform="translate(0,480)"/><use href="#ot" transform="translate(0,491) scale(1,.8)"/><use href="#ot" transform="translate(0,502)"/><use href="#ot" transform="translate(0,512) scale(1,.9)"/><use href="#ot" transform="translate(0,523)"/>
</g>
<g fill="#5cba88">
<use href="#gt" transform="translate(0,533)"/><use href="#gt" transform="translate(0,544)"/><use href="#gt" transform="translate(0,555) scale(1,1.3)"/><use href="#gt" transform="translate(0,566)"/><use href="#gt" transform="translate(0,576)"/>
</g>
<g font-size="4" fill="#333"><text x="303" y="473">[0 - 20]</text><text x="303" y="484">[0 - 20]</text><text x="303" y="495">[0 - 20]</text><text x="303" y="505">[0 - 20]</text><text x="303" y="516">[0 - 20]</text><text x="303" y="527">[0 - 20]</text><text x="303" y="538">[0 - 20]</text><text x="303" y="549">[0 - 20]</text><text x="303" y="560">[0 - 20]</text><text x="303" y="570">[0 - 20]</text></g>
<line x1="297" y1="468" x2="297" y2="526" stroke="#f0b070" stroke-width="1.5"/>
<line x1="297" y1="528" x2="297" y2="578" stroke="#9fd8b8" stroke-width="1.5"/>
<g font-size="10" font-style="italic" fill="#333" text-anchor="middle"><text transform="translate(294,497) rotate(-90)">A. fatua</text><text transform="translate(294,552) rotate(-90)">A. sativa</text></g>

<!-- ================= PANEL G ================= -->
<text x="266" y="590" font-size="17" font-weight="bold">g</text>
<text x="348" y="589" font-size="9.5" font-style="italic" fill="#333">4Dg0135144</text>
<rect x="418" y="582" width="32" height="6" fill="#2462a8"/>
<text x="274" y="597" font-size="5" fill="#333">2000bp-</text>
<rect x="300" y="593" width="235" height="29" fill="#0c0c0c"/>
<g fill="#bbb"><rect x="305" y="597" width="11" height="1.5"/><rect x="305" y="603" width="11" height="1.5"/><rect x="305" y="608" width="11" height="1.5"/><rect x="305" y="613" width="11" height="1.5"/></g>
<g fill="#ddd"><rect x="320" y="597" width="12" height="2.5"/><rect x="338" y="597" width="12" height="2.5" opacity=".9"/><rect x="356" y="597" width="12" height="2.5" opacity=".6"/><rect x="373" y="597" width="12" height="2.5" opacity=".8"/><rect x="391" y="597" width="12" height="2.5"/><rect x="408" y="597" width="12" height="2.5" opacity=".8"/></g>
<g fill="#888"><rect x="320" y="615" width="12" height="2" opacity=".6"/><rect x="480" y="615" width="10" height="2" opacity=".4"/><rect x="513" y="615" width="10" height="2" opacity=".5"/><rect x="497" y="615" width="10" height="2" opacity=".2"/></g>
<line x1="322" y1="628" x2="415" y2="628" stroke="#f5b370" stroke-width="1.2"/>
<line x1="423" y1="628" x2="535" y2="628" stroke="#9fd8c0" stroke-width="1.2"/>
<g font-size="9.5" font-style="italic" fill="#333" text-anchor="middle"><text x="368" y="640">A. fatua (n=6)</text><text x="481" y="640">A. sativa (n=6)</text></g>

<!-- ================= PANEL H ================= -->
<text x="542" y="393" font-size="17" font-weight="bold">h</text>
<text x="582" y="387" font-size="9" font-style="italic" fill="#333">4Dg0135144</text>
<g stroke="#555"><line x1="573" y1="393" x2="573" y2="509"/><line x1="573" y1="509" x2="670" y2="509"/><line x1="570" y1="395" x2="573" y2="395"/><line x1="570" y1="433" x2="573" y2="433"/><line x1="570" y1="471" x2="573" y2="471"/><line x1="570" y1="509" x2="573" y2="509"/></g>
<g font-size="7.5" fill="#333" text-anchor="end"><text x="569" y="398">6</text><text x="569" y="436">4</text><text x="569" y="474">2</text><text x="569" y="512">0</text></g>
<g fill="#5fb387"><rect x="583" y="472" width="10" height="37"/><rect x="615" y="458" width="10" height="51"/><rect x="647" y="406" width="10" height="103"/></g>
<g fill="#e8a050"><rect x="593" y="490" width="10" height="19"/><rect x="626" y="490" width="10" height="19"/><rect x="658" y="490" width="10" height="19"/></g>
<g stroke="#222" stroke-width=".8"><line x1="588" y1="465" x2="588" y2="479"/><line x1="585" y1="465" x2="591" y2="465"/><line x1="620" y1="450" x2="620" y2="466"/><line x1="617" y1="450" x2="623" y2="450"/><line x1="598" y1="486" x2="598" y2="494"/><line x1="631" y1="486" x2="631" y2="494"/></g>
<g fill="#111"><circle cx="586" cy="470" r="1.8"/><circle cx="589" cy="477" r="1.8"/><circle cx="591" cy="483" r="1.8"/><circle cx="597" cy="486" r="1.6"/><circle cx="600" cy="493" r="1.6"/><circle cx="598" cy="498" r="1.6"/><circle cx="619" cy="448" r="1.8"/><circle cx="621" cy="455" r="1.8"/><circle cx="617" cy="470" r="1.8"/><circle cx="630" cy="487" r="1.6"/><circle cx="631" cy="494" r="1.6"/><circle cx="629" cy="500" r="1.6"/><circle cx="651" cy="405" r="1.8"/><circle cx="654" cy="408" r="1.8"/><circle cx="653" cy="404" r="1.6"/><circle cx="662" cy="490" r="1.4"/><circle cx="665" cy="490" r="1.4"/></g>
<g font-size="8.5" fill="#333" text-anchor="middle"><text x="594" y="518">6h</text><text x="627" y="518">24h</text><text x="660" y="518">7day</text><text x="627" y="528">Root</text><text x="588" y="456">ns</text><text x="620" y="438">*</text><text x="652" y="401" font-size="6">****</text></g>
<text transform="translate(566,455) rotate(-90)" font-size="7.2" fill="#333" text-anchor="middle" textLength="150" lengthAdjust="spacingAndGlyphs">Relative accumulation of transcription</text>
<g stroke="#555"><line x1="698" y1="393" x2="698" y2="509"/><line x1="698" y1="509" x2="792" y2="509"/><line x1="695" y1="395" x2="698" y2="395"/><line x1="695" y1="423.5" x2="698" y2="423.5"/><line x1="695" y1="452" x2="698" y2="452"/><line x1="695" y1="480.5" x2="698" y2="480.5"/><line x1="695" y1="509" x2="698" y2="509"/></g>
<g font-size="7.5" fill="#333" text-anchor="end"><text x="694" y="398">12</text><text x="694" y="426">9</text><text x="694" y="455">6</text><text x="694" y="483">3</text><text x="694" y="512">0</text></g>
<g fill="#5fb387"><rect x="706" y="436" width="10" height="73"/><rect x="738" y="433" width="10" height="76"/><rect x="768" y="431" width="10" height="78"/></g>
<g fill="#e8a050"><rect x="717" y="500" width="10" height="9"/><rect x="748" y="500" width="10" height="9"/><rect x="780" y="501" width="10" height="8"/></g>
<g stroke="#222" stroke-width=".8"><line x1="711" y1="417" x2="711" y2="455"/><line x1="708" y1="417" x2="714" y2="417"/><line x1="743" y1="420" x2="743" y2="447"/><line x1="740" y1="420" x2="746" y2="420"/><line x1="773" y1="413" x2="773" y2="447"/><line x1="770" y1="413" x2="776" y2="413"/></g>
<g fill="#111"><circle cx="710" cy="401" r="1.8"/><circle cx="708" cy="447" r="1.8"/><circle cx="709" cy="456" r="1.8"/><circle cx="742" cy="412" r="1.8"/><circle cx="744" cy="426" r="1.8"/><circle cx="742" cy="459" r="1.8"/><circle cx="773" cy="407" r="1.8"/><circle cx="773" cy="418" r="1.8"/><circle cx="772" cy="437" r="1.8"/><circle cx="721" cy="499" r="1.4"/><circle cx="724" cy="501" r="1.4"/><circle cx="751" cy="503" r="1.4"/><circle cx="754" cy="498" r="1.4"/><circle cx="783" cy="500" r="1.4"/><circle cx="787" cy="502" r="1.4"/></g>
<g font-size="8.5" fill="#333" text-anchor="middle"><text x="717" y="518">6h</text><text x="747" y="518">24h</text><text x="780" y="518">7day</text><text x="748" y="528">Leaf</text><text x="710" y="410">ns</text><text x="742" y="408">*</text><text x="773" y="406" font-size="6">****</text></g>
<text transform="translate(685,455) rotate(-90)" font-size="7.2" fill="#333" text-anchor="middle" textLength="150" lengthAdjust="spacingAndGlyphs">Relative accumulation of transcription</text>
<rect x="693" y="380" width="11" height="8" fill="#e8a050"/><text x="706" y="388" font-size="9" fill="#333" textLength="24" lengthAdjust="spacingAndGlyphs">Mock</text>
<rect x="746" y="380" width="10" height="8" fill="#5fb387"/><text x="757" y="388" font-size="9" fill="#333" textLength="37" lengthAdjust="spacingAndGlyphs">Herbicides</text>

<!-- ================= PANEL I ================= -->
<text x="541" y="550" font-size="17" font-weight="bold">i</text>
<text transform="translate(558,583) rotate(-90)" font-size="10" fill="#333" text-anchor="middle">ATAC</text>
<line x1="561" y1="545" x2="561" y2="623" stroke="#ccc"/>
<g font-size="9.5" text-anchor="end"><text x="628" y="554" fill="#3a7bbf">24h Control</text><text x="628" y="577" fill="#e04545">24h Treatment</text><text x="628" y="600" fill="#3a7bbf">7day Control</text><text x="628" y="623" fill="#e04545">7day Treatment</text></g>
<g fill="#ccc" opacity=".8"><rect x="662" y="544" width="21" height="80"/><rect x="736" y="544" width="12" height="80"/></g>
<g fill="#3a7bbf">
<path d="M631,560 L633,557 L638,556 L643,558 L648,559 L660,559 L663,553 L667,552 L672,554 L678,551 L684,553 L690,552 L695,548 L700,549 L705,547 L710,550 L718,552 L725,550 L732,553 L740,555 L745,558 L760,559 L765,556 L770,555 L775,558 L787,559 L787,560 Z"/>
<path d="M631,603 L640,602 L660,601 L663,597 L668,594 L673,595 L680,598 L690,601 L700,600 L720,601 L735,600 L740,598 L745,600 L760,601 L787,601 L787,603 Z"/>
</g>
<g fill="#e04545">
<rect x="631" y="580.5" width="30" height="1.2"/>
<path d="M662,582 L663,573 L667,571 L672,574 L678,576 L685,579 L700,580 L715,579 L725,577 L732,574 L737,567 L740,565 L744,569 L747,578 L760,580 L780,581 L782,574 L787,573 L787,582 Z"/>
<path d="M631,624 L640,621 L655,621 L662,618 L664,611 L668,606 L672,607 L677,608 L682,614 L690,620 L710,620 L725,620 L733,617 L738,612 L742,609 L746,615 L750,620 L770,621 L787,621 L787,624 Z"/>
</g>
<rect x="630.5" y="543.5" width="158" height="82" fill="none" stroke="#999"/>
<g font-size="8.5" fill="#333"><text x="632" y="552">[0 - 20]</text><text x="632" y="572">[0 - 20]</text><text x="632" y="594">[0 - 50]</text><text x="632" y="614">[0 - 50]</text></g>
<text x="607" y="638" font-size="9.5" font-style="italic" fill="#333">4Dg0135144</text>
<rect x="680" y="631" width="55" height="6" fill="#2462a8"/>
<g fill="#fff"><rect x="690" y="633" width="1" height="2"/><rect x="705" y="633" width="1" height="2"/><rect x="718" y="633" width="1" height="2"/><rect x="727" y="633" width="1" height="2"/></g>

<!-- ================= PANEL J ================= -->
<text x="7" y="663" font-size="17" font-weight="bold">j</text>
<g fill="#0b0b0b" stroke="#bbb" stroke-width=".8">
<rect x="20" y="663" width="98" height="69"/><rect x="119" y="663" width="100" height="69"/>
<rect x="20" y="734" width="98" height="69"/><rect x="119" y="734" width="100" height="69"/>
<rect x="20" y="806" width="98" height="70"/><rect x="119" y="806" width="100" height="70"/>
</g>
<g stroke="#5f9f36" stroke-width="1" fill="none">
<path d="M65,722 L55,708 M65,722 L60,706 M65,722 L64,707 M65,722 L68,706 M65,722 L72,708 M65,722 L77,709"/>
<path d="M64,790 Q40,770 24,760 M64,790 Q48,765 40,748 M64,790 L52,742 M64,790 L60,738 M64,790 L66,741 M64,790 L75,740 M64,790 Q80,765 88,745 M64,790 Q90,760 100,750 M64,790 Q95,770 108,775 M64,790 Q45,780 30,785"/>
<path d="M165,790 Q140,770 128,760 M165,790 L140,748 M165,790 L152,742 M165,790 L160,738 M165,790 L168,742 M165,790 L176,745 M165,790 Q180,760 188,742 M165,790 Q190,765 200,755 M165,790 Q195,775 208,780"/>
<path d="M64,863 Q40,840 28,822 M64,863 Q48,845 40,830 M64,863 L50,815 M64,863 L60,812 M64,863 L70,818 M64,863 Q78,838 85,822 M64,863 Q90,840 100,832 M64,863 Q95,850 110,858 M64,863 Q40,855 25,860"/>
<path d="M164,862 Q140,850 124,850 M164,862 L130,858 M164,862 L145,848 M164,862 L160,840 M164,862 L175,838 M164,862 Q185,835 195,825 M164,862 Q195,835 210,818 M164,862 Q195,850 214,855"/>
</g>
<g stroke="#b9b4a8" stroke-width="1.2" fill="none"><path d="M165,722 L152,712 M165,722 L160,710 M165,722 L170,711 M165,722 L178,713"/></g>
<g>
<polygon points="46,722 84,722 81,732 49,732" fill="#8dbcc4"/>
<polygon points="145,722 185,722 182,732 148,732" fill="#7ea6a6"/>
<polygon points="46,790 82,790 79,803 49,803" fill="#7fb8c8"/>
<polygon points="147,790 183,790 180,803 150,803" fill="#7fb8c8"/>
<polygon points="46,863 82,863 80,876 48,876" fill="#6fb4cc"/>
<polygon points="146,862 182,862 180,876 148,876" fill="#6fb4cc"/>
</g>
<g fill="#fff"><rect x="103" y="727" width="12" height="2"/><rect x="206" y="727" width="11" height="2"/><rect x="103" y="796" width="12" height="2"/><rect x="206" y="796" width="11" height="2"/><rect x="103" y="870" width="12" height="2"/><rect x="206" y="870" width="11" height="2"/></g>
<g font-size="8.5" font-style="italic" fill="#ddd"><text x="24" y="673">TRV1TRV2</text><text x="123" y="673">V-PDS</text><text x="24" y="744">TRV1TRV2</text><text x="123" y="744">V1-4Dg0135144</text><text x="24" y="816">TRV1TRV2</text><text x="123" y="816">V1-4Dg0135144</text></g>
<g font-size="10.5" fill="#111" text-anchor="middle"><text transform="translate(18,698) rotate(-90)">7 day</text><text transform="translate(18,768) rotate(-90)">Herbicide 0d</text><text transform="translate(18,840) rotate(-90)">Herbicide 7d</text></g>

<!-- ================= PANEL K ================= -->
<text x="223" y="663" font-size="17" font-weight="bold">k</text>
<g fill="#101010" stroke="#bbb" stroke-width=".8">
<rect x="235" y="663" width="113" height="69"/><rect x="349" y="663" width="113" height="69"/>
<rect x="235" y="734" width="113" height="69"/><rect x="349" y="734" width="113" height="69"/>
</g>
<g fill="none" stroke-width="1.5">
<path stroke="#9ccb55" d="M288,720 Q260,705 240,695 M288,720 L250,685 M288,720 L262,680 M288,720 L272,672 M288,720 L280,668 M288,720 L286,670 M288,720 L292,668 M288,720 L300,672 M288,720 L310,670 M288,720 L318,678 M288,720 L330,690 M288,720 Q320,700 340,695 M288,720 L335,710"/>
<path stroke="#86c45a" d="M402,720 L372,700 M402,720 L380,690 M402,720 L390,678 M402,720 L397,672 M402,720 L403,670 M402,720 L408,675 M402,720 L415,678 M402,720 L425,690 M402,720 L440,700"/>
<path stroke="#c2c548" d="M288,790 Q260,780 240,772 M288,790 L250,765 M288,790 L265,745 M288,790 L278,740 M288,790 L285,735 M288,790 L292,738 M288,790 L300,745 M288,790 L310,750 M288,790 Q315,772 330,770 M288,790 Q320,780 345,775"/>
<path stroke="#a9c048" d="M408,790 L360,778 M408,790 L380,774 M408,790 L395,768 M408,790 L402,765 M408,790 L412,764 M408,790 L420,768 M408,790 L430,770 M408,790 L448,776"/>
</g>
<polygon points="262,718 314,718 311,732 265,732" fill="#7cb8bc"/>
<polygon points="376,718 428,718 425,732 379,732" fill="#92b6b6"/>
<polygon points="263,788 313,788 310,803 266,803" fill="#78b5b8"/>
<polygon points="382,790 434,790 431,803 385,803" fill="#9aa77a"/>
<g fill="#fff"><rect x="325" y="725" width="15" height="2.2"/><rect x="438" y="725" width="14" height="2.2"/><rect x="325" y="797" width="15" height="2.2"/><rect x="438" y="797" width="14" height="2.2"/></g>
<g font-size="8.5" font-style="italic" fill="#ddd"><text x="238" y="673">TRV1TRV2</text><text x="351" y="673">V2-4Dg0135144</text><text x="238" y="744">TRV1TRV2</text><text x="351" y="744">V2-4Dg0135144</text></g>
<g font-size="10.5" fill="#111" text-anchor="middle"><text transform="translate(231,698) rotate(-90)">Herbicide 0d</text><text transform="translate(231,768) rotate(-90)">Herbicide 7d</text></g>

<!-- ================= PANEL L ================= -->
<text x="222" y="823" font-size="17" font-weight="bold">l</text>
<g stroke="#333" stroke-width=".9"><line x1="263" y1="810" x2="263" y2="860"/><line x1="263" y1="860" x2="346" y2="860"/>
<line x1="260" y1="811" x2="263" y2="811"/><line x1="260" y1="823.5" x2="263" y2="823.5"/><line x1="260" y1="836" x2="263" y2="836"/><line x1="260" y1="848" x2="263" y2="848"/><line x1="260" y1="860" x2="263" y2="860"/>
<line x1="376" y1="810" x2="376" y2="860"/><line x1="376" y1="860" x2="460" y2="860"/>
<line x1="373" y1="811" x2="376" y2="811"/><line x1="373" y1="823.5" x2="376" y2="823.5"/><line x1="373" y1="836" x2="376" y2="836"/><line x1="373" y1="848" x2="376" y2="848"/><line x1="373" y1="860" x2="376" y2="860"/></g>
<g font-size="9" fill="#333" text-anchor="end"><text x="259" y="814">80</text><text x="259" y="827">60</text><text x="259" y="839">40</text><text x="259" y="851">20</text><text x="259" y="863">0</text>
<text x="372" y="814">80</text><text x="372" y="827">60</text><text x="372" y="839">40</text><text x="372" y="851">20</text><text x="372" y="863">0</text></g>
<g font-size="8.5" fill="#666" text-anchor="middle"><text transform="translate(242,840) rotate(-90)">Survival Rate (%)</text><text transform="translate(362,840) rotate(-90)">Survival Rate (%)</text></g>
<g fill="#f0a040"><circle cx="278" cy="829" r="2.2"/><circle cx="285" cy="824" r="2.2"/><circle cx="292" cy="829" r="2.2"/><circle cx="285" cy="834" r="2.2"/><circle cx="279" cy="834" r="2.2"/><circle cx="398" cy="828" r="2.3"/><circle cx="398" cy="834" r="2.3"/></g>
<g fill="#5b9bd5"><rect x="315" y="838" width="4" height="4"/><rect x="323" y="838" width="4" height="4"/><rect x="319" y="843" width="4" height="4"/><rect x="315" y="849" width="4" height="4"/><rect x="323" y="849" width="4" height="4"/><rect x="435" y="838" width="4" height="4"/><rect x="435" y="845" width="4" height="4"/><rect x="435" y="852" width="4" height="4"/></g>
<g stroke="#222" stroke-width="1"><line x1="272" y1="825" x2="298" y2="825"/><line x1="278" y1="836" x2="292" y2="836"/><line x1="313" y1="839" x2="337" y2="839"/><line x1="316" y1="851" x2="334" y2="851"/><line x1="385" y1="829" x2="412" y2="829"/><line x1="425" y1="846" x2="450" y2="846"/><line x1="430" y1="839" x2="445" y2="839"/><line x1="430" y1="855" x2="445" y2="855"/></g>
<g font-size="8" fill="#333" text-anchor="middle"><text x="326" y="826">***</text><text x="437" y="834">*</text></g>
<g font-size="9.5" fill="#333"><text transform="translate(253,882) rotate(-20)">TRV1TRV2</text><text transform="translate(282,891) rotate(-20)">V1-4Dg0135144</text><text transform="translate(365,882) rotate(-20)">TRV1TRV2</text><text transform="translate(393,892) rotate(-20)">V2-4Dg0135144</text></g>

<!-- ================= PANEL M ================= -->
<text x="474" y="662" font-size="17" font-weight="bold">m</text>
<rect x="507" y="663" width="13" height="7" fill="#e8a050"/><text x="522" y="670" font-size="10" fill="#333">Mock</text>
<rect x="562" y="663" width="13" height="7" fill="#5fb387"/><text x="577" y="670" font-size="10" fill="#333">Herbicides</text>
<g stroke="#555" stroke-width=".9"><line x1="508" y1="683" x2="508" y2="828"/>
<line x1="505" y1="683" x2="508" y2="683"/><line x1="505" y1="712" x2="508" y2="712"/><line x1="505" y1="741" x2="508" y2="741"/><line x1="505" y1="770" x2="508" y2="770"/><line x1="505" y1="799" x2="508" y2="799"/><line x1="505" y1="828" x2="508" y2="828"/>
<line x1="608" y1="689" x2="608" y2="827"/>
<line x1="605" y1="689" x2="608" y2="689"/><line x1="605" y1="723" x2="608" y2="723"/><line x1="605" y1="758" x2="608" y2="758"/><line x1="605" y1="793" x2="608" y2="793"/><line x1="605" y1="827" x2="608" y2="827"/>
<line x1="710" y1="691" x2="710" y2="827"/>
<line x1="707" y1="691" x2="710" y2="691"/><line x1="707" y1="725" x2="710" y2="725"/><line x1="707" y1="759" x2="710" y2="759"/><line x1="707" y1="793" x2="710" y2="793"/><line x1="707" y1="827" x2="710" y2="827"/></g>
<g font-size="9" fill="#333" text-anchor="end">
<text x="504" y="686">10000</text><text x="504" y="715">8000</text><text x="504" y="744">6000</text><text x="504" y="773">4000</text><text x="504" y="802">2000</text><text x="504" y="831">0</text>
<text x="604" y="692">0.8</text><text x="604" y="726">0.6</text><text x="604" y="761">0.4</text><text x="604" y="796">0.2</text><text x="604" y="830">0.0</text>
<text x="706" y="694">40</text><text x="706" y="728">30</text><text x="706" y="762">20</text><text x="706" y="796">10</text><text x="706" y="830">0</text>
</g>
<g fill="#e8a050"><rect x="513" y="830" width="27" height="4"/><rect x="612" y="829" width="28" height="4"/><rect x="715" y="829" width="30" height="4"/></g>
<g fill="#5fb387"><rect x="543" y="830" width="26" height="4"/><rect x="643" y="829" width="29" height="4"/><rect x="753" y="829" width="29" height="4"/></g>
<g fill="#f0a040"><circle cx="518" cy="764" r="1.5"/><circle cx="522" cy="768" r="1.5"/><circle cx="519" cy="774" r="1.5"/><circle cx="523" cy="777" r="1.5"/><circle cx="548" cy="701" r="1.5"/><circle cx="552" cy="706" r="1.5"/><circle cx="549" cy="712" r="1.5"/><circle cx="553" cy="719" r="1.5"/>
<circle cx="617" cy="762" r="1.4"/><circle cx="621" cy="767" r="1.4"/><circle cx="618" cy="772" r="1.4"/><circle cx="647" cy="710" r="1.4"/><circle cx="651" cy="714" r="1.4"/><circle cx="649" cy="720" r="1.4"/>
<circle cx="718" cy="731" r="1.4"/><circle cx="722" cy="733" r="1.4"/><circle cx="756" cy="746" r="1.4"/><circle cx="760" cy="748" r="1.4"/></g>
<g fill="#5b9bd5"><circle cx="533" cy="773" r="1.4"/><circle cx="537" cy="776" r="1.4"/><circle cx="535" cy="779" r="1.4"/><circle cx="561" cy="731" r="1.4"/><circle cx="565" cy="737" r="1.4"/><circle cx="563" cy="743" r="1.4"/>
<circle cx="631" cy="774" r="1.4"/><circle cx="635" cy="778" r="1.4"/><circle cx="633" cy="782" r="1.4"/><circle cx="663" cy="748" r="1.4"/><circle cx="667" cy="750" r="1.4"/>
<circle cx="736" cy="727" r="1.4"/><circle cx="740" cy="730" r="1.4"/><circle cx="775" cy="786" r="1.4"/><circle cx="779" cy="791" r="1.4"/><circle cx="777" cy="795" r="1.4"/></g>
<g stroke="#222" stroke-width=".9">
<path d="M520,764 V776 M515,770 H525 M517,764 H523 M517,776 H523"/>
<path d="M535,771 V779 M530,775 H540"/>
<path d="M550,698 V718 M545,708 H555 M547,698 H553 M547,718 H553"/>
<path d="M563,730 V744 M558,737 H568 M560,730 H566 M560,744 H566"/>
<path d="M619,761 V772 M614,767 H624 M616,761 H622 M616,772 H622"/>
<path d="M633,773 V781 M628,777 H638"/>
<path d="M649,709 V721 M644,715 H654 M646,709 H652 M646,721 H652"/>
<path d="M665,747 V751 M660,749 H670"/>
<path d="M720,730 V734 M715,732 H725"/>
<path d="M738,726 V731 M733,728 H743"/>
<path d="M758,745 V749 M753,747 H763"/>
<path d="M777,784 V796 M772,790 H782 M774,784 H780 M774,796 H780"/>
</g>
<g stroke="#555" stroke-width="1"><line x1="513" y1="692" x2="540" y2="692"/><line x1="543" y1="692" x2="570" y2="692"/><line x1="615" y1="692" x2="637" y2="692"/><line x1="647" y1="692" x2="672" y2="692"/><line x1="717" y1="692" x2="742" y2="692"/><line x1="753" y1="692" x2="780" y2="692"/></g>
<g font-size="9" fill="#333" text-anchor="middle"><text x="526" y="689">ns</text><text x="556" y="690" font-size="7">***</text><text x="626" y="690" font-size="7">**</text><text x="659" y="690" font-size="7">****</text><text x="729" y="690" font-size="8">*</text><text x="767" y="690" font-size="7">****</text></g>
<g font-size="10" fill="#333" text-anchor="middle">
<text transform="translate(480,757) rotate(-90)">CAT (U/g)</text>
<text transform="translate(587,765) rotate(-90)">Soluble sugar  (mg/g)</text>
<text transform="translate(697,757) rotate(-90)" font-size="9.5" textLength="182" lengthAdjust="spacingAndGlyphs">Chlorophyll concentration (u mol/ml/g)</text>
</g>
<g font-size="9" font-style="italic" fill="#333" text-anchor="end">
<text transform="translate(516,840) rotate(-40)">TRV1TRV2</text>
<text transform="translate(531,840) rotate(-40)">V-4Dg0135144</text>
<text transform="translate(553,840) rotate(-40)">TRV1TRV2</text>
<text transform="translate(569,840) rotate(-40)">V-4Dg0135144</text>
<text transform="translate(615,840) rotate(-40)">TRV1TRV2</text>
<text transform="translate(630,840) rotate(-40)">V-4Dg0135144</text>
<text transform="translate(652,840) rotate(-40)">TRV1TRV2</text>
<text transform="translate(668,840) rotate(-40)">V-4Dg0135144</text>
<text transform="translate(720,840) rotate(-40)">TRV1TRV2</text>
<text transform="translate(740,840) rotate(-40)">V-4Dg0135144</text>
<text transform="translate(759,840) rotate(-40)">TRV1TRV2</text>
<text transform="translate(781,840) rotate(-40)">V-4Dg0135144</text>
</g>
</svg>
</body></html>
